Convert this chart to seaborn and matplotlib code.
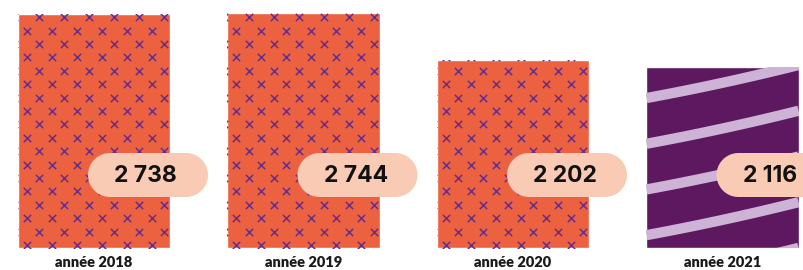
#import packages
import numpy as np
import pandas as pd
import matplotlib
matplotlib.use("Agg")
import matplotlib.pyplot as plt
from matplotlib.patches import Polygon
import seaborn as sns

#data
years = ["année 2018", "année 2019", "année 2020", "année 2021"]
counts = [2738, 2744, 2202, 2116]
value_labels = ["2 738", "2 744", "2 202", "2 116"]
bar_colors = ["#ec6241", "#ec6241", "#ec6241", "#5e1860"]

ORANGE_MARK = "#6b2e86"
WAVE = "#cdb4d6"
PILL = "#f9cbb4"

df = pd.DataFrame({"year": years, "count": counts})

sns.set_style("white")
plt.rcParams['font.family'] = ['Lato', 'DejaVu Sans']

fig = plt.figure(figsize=(8.04, 2.70), dpi=100)
ax = fig.add_axes([0, 22 / 270, 1, 248 / 270])
sns.barplot(data=df, x="year", y="count", hue="year", palette=bar_colors,
            width=0.726, legend=False, saturation=1, ax=ax)
ax.set_xlim(-0.4487, 3.389)
ax.set_ylim(0, 2900)
sns.despine(left=True, bottom=True)
ax.set_yticks([])
ax.set(xlabel="", ylabel="")
ax.tick_params(axis="x", length=0, pad=6)
for t in ax.get_xticklabels():
    t.set_fontweight("heavy")
    t.set_fontsize(10.5)
    t.set_color("#1a1a1a")

fig.canvas.draw()
to_px = ax.transData.transform
to_data = ax.transData.inverted().transform


def stadium(x_left, y_mid, w, h):
    # pill outline in pixel coordinates
    r = h / 2
    a = np.linspace(-np.pi / 2, np.pi / 2, 40)
    right = np.column_stack([x_left + w - r + r * np.cos(a), y_mid + r * np.sin(a)])
    left = np.column_stack([x_left + r - r * np.cos(a), y_mid - r * np.sin(a)])
    return np.vstack([right, left])


for i, bar in enumerate(ax.patches[:len(counts)]):
    x0, y0 = to_px((bar.get_x(), 0))
    x1, y1 = to_px((bar.get_x() + bar.get_width(), bar.get_height()))
    if i < 3:
        # staggered cross pattern
        pts = []
        ys = np.arange(y0 + 3, y1 + 10, 13.4)
        for r, yy in enumerate(ys):
            off = 12.5 if r % 2 else 0
            for xx in np.arange(x0 + 8.7 + off - 25, x1 + 10, 25):
                pts.append((xx, yy))
        pts = to_data(np.array(pts))
        sc = ax.scatter(pts[:, 0], pts[:, 1], marker="x", s=28,
                        color=ORANGE_MARK, linewidths=1.1, zorder=3)
        sc.set_clip_path(bar)
    else:
        # wavy bands
        t = np.linspace(0, 1, 60)
        for k in range(-1, 6):
            yy = (y1 - 31) - 45.7 * k + 28 * t + 5 * t ** 2
            xx = x0 + (x1 - x0) * t
            d = to_data(np.column_stack([xx, yy]))
            ln, = ax.plot(d[:, 0], d[:, 1], color=WAVE, lw=7.4,
                          solid_capstyle="butt", zorder=3)
            ln.set_clip_path(bar)

    # value pill
    xc = (x0 + x1) / 2
    cy = y0 + 73
    pill = Polygon(stadium(xc - 6, cy, 120, 44), closed=True, transform=None,
                   facecolor=PILL, edgecolor="none", zorder=4)
    fig.patches.append(pill)
    fig.text((xc + 20) / 804, (cy - 1) / 270, value_labels[i], ha="left", va="center",
             fontsize=16.5, fontweight="bold", color="#111111", zorder=5,
             family=["Inter", "DejaVu Sans"])

plt.savefig("out.png", dpi=100)
